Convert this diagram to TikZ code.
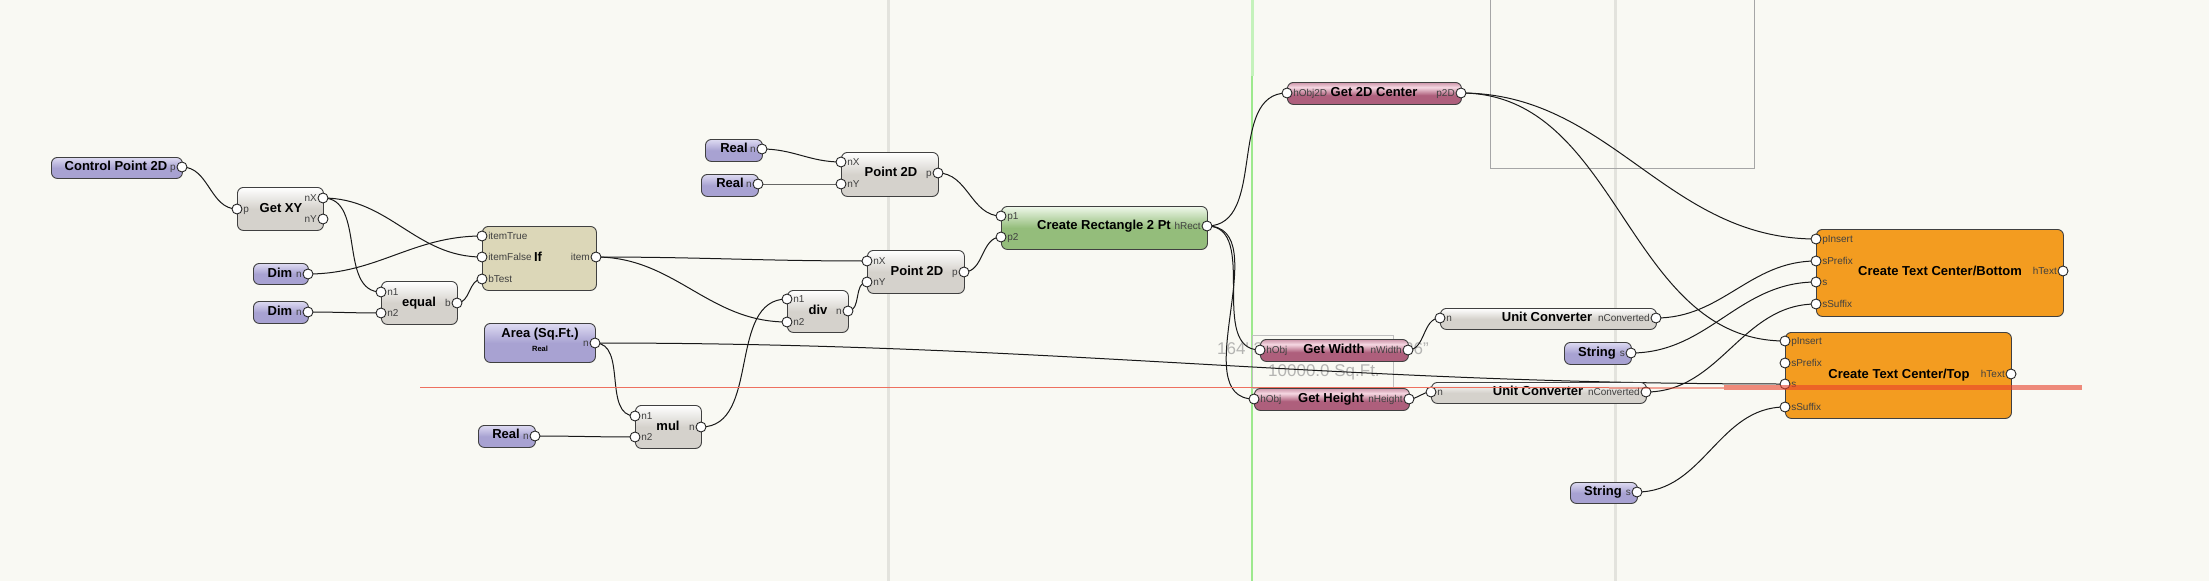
\documentclass[tikz,border=0pt]{standalone}
\usepackage{fontspec}
\setmainfont{Liberation Sans}
\usetikzlibrary{backgrounds}
\definecolor{canvas}{HTML}{F9F9F3}
\definecolor{inlight}{HTML}{DEDBF2}
\definecolor{indark}{HTML}{A8A2D2}
\definecolor{opdark}{HTML}{D5D2CC}
\definecolor{iffill}{HTML}{DCD7B8}
\definecolor{rclight}{HTML}{EFF8EA}
\definecolor{rcdark}{HTML}{94BD7B}
\definecolor{objlight}{HTML}{F5D8E2}
\definecolor{objdark}{HTML}{AE5F7C}
\definecolor{txtfill}{HTML}{F39C20}
\definecolor{guide}{HTML}{E3E3DD}
\definecolor{dimgray}{HTML}{B4B4B2}
\definecolor{redline}{HTML}{E8402A}
\definecolor{greenline}{HTML}{9DE98D}
\pgfdeclareverticalshading{objshade}{100bp}{color(0bp)=(objdark); color(46bp)=(objdark); color(64bp)=(objlight); color(75bp)=(objdark!55!objlight); color(100bp)=(objdark!55!objlight)}
\tikzset{
  blk/.style={draw=black!75, line width=0.9pt, rounded corners=6pt, inner sep=0pt, anchor=north west},
  inblk/.style={blk, top color=inlight, bottom color=indark, middle color=indark},
  opblk/.style={blk, top color=white, bottom color=opdark, middle color=opdark},
  ifblk/.style={blk, fill=iffill},
  rcblk/.style={blk, top color=rclight, bottom color=rcdark, middle color=rcdark},
  objblk/.style={blk, shading=objshade},
  txtblk/.style={blk, fill=txtfill},
  port/.style={circle, draw=black!85, fill=white, line width=0.9pt, minimum size=10pt, inner sep=0pt},
  plab/.style={font=\fontsize{10}{10}\selectfont, text=black!75, inner sep=0.6pt, text height=7.2pt, text depth=0pt},
  inport/.style={port, label={[plab]right:#1}},
  outport/.style={port, label={[plab]left:#1}},
  ttl/.style={font=\fontsize{13}{13}\selectfont\bfseries, inner sep=0pt, text height=9.4pt, text depth=0pt},
  wire/.style={line width=1pt, draw=black!90},
  dimtxt/.style={font=\fontsize{17}{17}\selectfont, text=dimgray, inner sep=0pt},
}
\begin{document}
\begin{tikzpicture}[x=1pt,y=-1pt]
\useasboundingbox (0,0) rectangle (2209,581);
\begin{scope}[on background layer]
\fill[canvas] (0,0) rectangle (2209,581);
\draw[guide,line width=3pt] (888,0) -- (888,581);
\draw[guide,line width=3pt] (1615,0) -- (1615,581);
\draw[greenline,line width=1.2pt] (1252,0) -- (1252,581);
\draw[greenline!60!white,line width=3pt] (1252,0) -- (1252,76);
\draw[black!35,line width=1pt] (1490,-2) -- (1490,168) -- (1754,168) -- (1754,-2);
\draw[black!25,line width=0.8pt] (1252,335) rectangle (1393,388);
\node[dimtxt,anchor=base west] (dimtxtL) at (1217,354) {164\textquotesingle\ 3};
\node[dimtxt,anchor=base west] (dimtxtR) at (1404,354) {36"};
\node[dimtxt,anchor=base west] (areatxt) at (1268,376) {10000.0 Sq.Ft.};
\end{scope}

\node[inblk,minimum width=131,minimum height=21] (cp2d) at (51,157) {};
\node[ttl] (cp2d-t) at (116,166) {Control Point 2D};
\node[outport=p] (cp2d-p) at (182,167) {};

\node[inblk,minimum width=55,minimum height=21] (dimA) at (253,263) {};
\node[ttl] (dimA-t) at (280,273) {Dim};
\node[outport=n] (dimA-n) at (308,274) {};

\node[inblk,minimum width=55,minimum height=22] (dimB) at (253,301) {};
\node[ttl] (dimB-t) at (280,311) {Dim};
\node[outport=n] (dimB-n) at (308,312) {};

\node[inblk,minimum width=111,minimum height=39] (area) at (484,323) {};
\node[ttl] (area-t) at (540,333) {Area (Sq.Ft.)};
\node[ttl,font=\fontsize{7.5}{7.5}\selectfont\bfseries,text height=5.4pt] (area-s) at (540,349) {Real};
\node[outport=n] (area-n) at (595,343) {};

\node[inblk,minimum width=57,minimum height=22] (realC) at (478,425) {};
\node[ttl] (realC-t) at (506,434) {Real};
\node[outport=n] (realC-n) at (535,436) {};

\node[inblk,minimum width=57,minimum height=22] (realA) at (705,139) {};
\node[ttl] (realA-t) at (734,148) {Real};
\node[outport=n] (realA-n) at (762,149) {};

\node[inblk,minimum width=57,minimum height=22] (realB) at (701,174) {};
\node[ttl] (realB-t) at (730,183) {Real};
\node[outport=n] (realB-n) at (758,184) {};

\node[inblk,minimum width=67,minimum height=22] (strA) at (1564,342) {};
\node[ttl] (strA-t) at (1597,352) {String};
\node[outport=s] (strA-s) at (1631,353) {};

\node[inblk,minimum width=67,minimum height=21] (strB) at (1570,482) {};
\node[ttl] (strB-t) at (1603,491) {String};
\node[outport=s] (strB-s) at (1637,492) {};

\node[opblk,minimum width=86,minimum height=43] (gxy) at (237,187) {};
\node[ttl] (gxy-t) at (281,208) {Get XY};
\node[inport=p] (gxy-p) at (237,209) {};
\node[outport=nX] (gxy-x) at (323,198) {};
\node[outport=nY] (gxy-y) at (323,219) {};

\node[opblk,minimum width=76,minimum height=43] (equal) at (381,281) {};
\node[ttl] (equal-t) at (419,302) {equal};
\node[inport=n1] (equal-a) at (381,292) {};
\node[inport=n2] (equal-b) at (381,313) {};
\node[outport=b] (equal-o) at (457,303) {};

\node[ifblk,minimum width=114,minimum height=64] (cond) at (482,226) {};
\node[ttl] (cond-t) at (538,257) {If};
\node[inport=itemTrue] (cond-tr) at (482,236) {};
\node[inport=itemFalse] (cond-fa) at (482,257) {};
\node[inport=bTest] (cond-te) at (482,279) {};
\node[outport=item] (cond-o) at (596,257) {};

\node[opblk,minimum width=66,minimum height=43] (mul) at (635,405) {};
\node[ttl] (mul-t) at (668,426) {mul};
\node[inport=n1] (mul-a) at (635,416) {};
\node[inport=n2] (mul-b) at (635,437) {};
\node[outport=n] (mul-o) at (701,427) {};

\node[opblk,minimum width=61,minimum height=42] (div) at (787,290) {};
\node[ttl] (div-t) at (818,310) {div};
\node[inport=n1] (div-a) at (787,299) {};
\node[inport=n2] (div-b) at (787,322) {};
\node[outport=n] (div-o) at (848,311) {};

\node[opblk,minimum width=97,minimum height=44] (ptA) at (841,152) {};
\node[ttl] (ptA-t) at (891,172) {Point 2D};
\node[inport=nX] (ptA-x) at (841,162) {};
\node[inport=nY] (ptA-y) at (841,184) {};
\node[outport=p] (ptA-o) at (938,173) {};

\node[opblk,minimum width=97,minimum height=43] (ptB) at (867,250) {};
\node[ttl] (ptB-t) at (917,271) {Point 2D};
\node[inport=nX] (ptB-x) at (867,261) {};
\node[inport=nY] (ptB-y) at (867,282) {};
\node[outport=p] (ptB-o) at (964,272) {};

\node[rcblk,minimum width=206,minimum height=43] (rect) at (1001,206) {};
\node[ttl] (rect-t) at (1104,225) {Create Rectangle 2 Pt};
\node[inport=p1] (rect-a) at (1001,216) {};
\node[inport=p2] (rect-b) at (1001,237) {};
\node[outport=hRect] (rect-o) at (1207,226) {};

\node[objblk,minimum width=174,minimum height=22] (ctr) at (1287,82) {};
\node[ttl] (ctr-t) at (1374,92) {Get 2D Center};
\node[inport=hObj2D] (ctr-i) at (1287,93) {};
\node[outport=p2D] (ctr-o) at (1461,93) {};

\node[objblk,minimum width=148,minimum height=22] (wid) at (1260,339) {};
\node[ttl] (wid-t) at (1334,349) {Get Width};
\node[inport=hObj] (wid-i) at (1260,350) {};
\node[outport=nWidth] (wid-o) at (1408,350) {};

\node[objblk,minimum width=155,minimum height=22] (hgt) at (1254,388) {};
\node[ttl] (hgt-t) at (1331,398) {Get Height};
\node[inport=hObj] (hgt-i) at (1254,399) {};
\node[outport=nHeight] (hgt-o) at (1409,399) {};

\node[opblk,minimum width=216,minimum height=21] (ucA) at (1440,308) {};
\node[ttl] (ucA-t) at (1547,317) {Unit Converter};
\node[inport=n] (ucA-i) at (1440,318) {};
\node[outport=nConverted] (ucA-o) at (1656,318) {};

\node[opblk,minimum width=215,minimum height=21] (ucB) at (1431,382) {};
\node[ttl] (ucB-t) at (1538,391) {Unit Converter};
\node[inport=n] (ucB-i) at (1431,392) {};
\node[outport=nConverted] (ucB-o) at (1646,392) {};

\node[txtblk,minimum width=247,minimum height=87] (txtBot) at (1816,229) {};
\node[ttl] (txtBot-t) at (1940,271) {Create Text Center/Bottom};
\node[inport=pInsert] (txtBot-ins) at (1816,239) {};
\node[inport=sPrefix] (txtBot-pre) at (1816,261) {};
\node[inport=s] (txtBot-s) at (1816,282) {};
\node[inport=sSuffix] (txtBot-suf) at (1816,304) {};
\node[outport=hText] (txtBot-o) at (2063,271) {};

\node[txtblk,minimum width=226,minimum height=86] (txtTop) at (1785,332) {};
\node[ttl] (txtTop-t) at (1899,374) {Create Text Center/Top};
\node[inport=pInsert] (txtTop-ins) at (1785,341) {};
\node[inport=sPrefix] (txtTop-pre) at (1785,363) {};
\node[inport=s] (txtTop-s) at (1785,384) {};
\node[inport=sSuffix] (txtTop-suf) at (1785,407) {};
\node[outport=hText] (txtTop-o) at (2011,374) {};

\draw[redline!75!white,line width=1pt] (420,387.5) -- (1609,387.5);
\draw[redline,opacity=0.45,line width=2pt] (1609,387.5) -- (1724,387.5);
\draw[redline,opacity=0.6,line width=4.5pt] (1724,387.5) -- (2082,387.5);

\begin{scope}[on background layer]
\draw[wire] (cp2d-p.center) to[out=0,in=180] (gxy-p.center);
\draw[wire] (gxy-x.center) to[out=0,in=180] (cond-fa.center);
\draw[wire] (gxy-x.center) to[out=0,in=180] (equal-a.center);
\draw[wire] (dimA-n.center) to[out=0,in=180] (cond-tr.center);
\draw[wire] (dimB-n.center) to[out=0,in=180] (equal-b.center);
\draw[wire] (equal-o.center) to[out=0,in=180] (cond-te.center);
\draw[wire] (cond-o.center) to[out=0,in=180] (ptB-x.center);
\draw[wire] (cond-o.center) to[out=0,in=180] (div-b.center);
\draw[wire] (area-n.center) to[out=0,in=180] (mul-a.center);
\draw[wire] (area-n.center) .. controls +(460,0) and +(-460,0) .. (txtTop-s.center);
\draw[wire] (realC-n.center) to[out=0,in=180] (mul-b.center);
\draw[wire] (mul-o.center) to[out=0,in=180] (div-a.center);
\draw[wire] (div-o.center) to[out=0,in=180] (ptB-y.center);
\draw[wire] (realA-n.center) to[out=0,in=180] (ptA-x.center);
\draw[wire] (realB-n.center) to[out=0,in=180] (ptA-y.center);
\draw[wire] (ptA-o.center) to[out=0,in=180] (rect-a.center);
\draw[wire] (ptB-o.center) to[out=0,in=180] (rect-b.center);
\draw[wire] (rect-o.center) to[out=0,in=180] (ctr-i.center);
\draw[wire] (rect-o.center) to[out=0,in=180] (wid-i.center);
\draw[wire] (rect-o.center) to[out=0,in=180] (hgt-i.center);
\draw[wire] (ctr-o.center) to[out=0,in=180] (txtBot-ins.center);
\draw[wire] (ctr-o.center) to[out=0,in=180] (txtTop-ins.center);
\draw[wire] (wid-o.center) to[out=0,in=180] (ucA-i.center);
\draw[wire] (hgt-o.center) to[out=0,in=180] (ucB-i.center);
\draw[wire] (ucA-o.center) to[out=0,in=180] (txtBot-pre.center);
\draw[wire] (strA-s.center) to[out=0,in=180] (txtBot-s.center);
\draw[wire] (ucB-o.center) to[out=0,in=180] (txtBot-suf.center);
\draw[wire] (strB-s.center) to[out=0,in=180] (txtTop-suf.center);
\end{scope}
\end{tikzpicture}
\end{document}
